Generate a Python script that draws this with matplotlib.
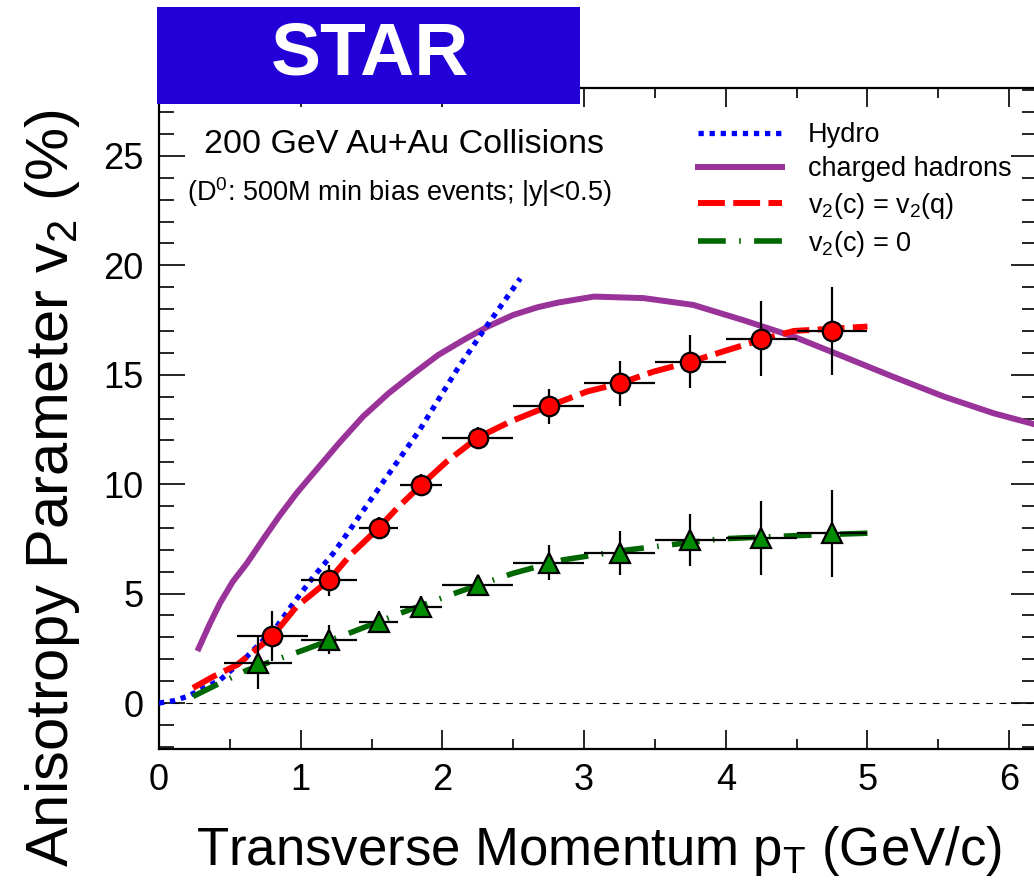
import numpy as np
import matplotlib.pyplot as plt
from matplotlib.patches import Rectangle
from matplotlib.ticker import MultipleLocator

plt.rcParams['font.family'] = ['Liberation Sans', 'DejaVu Sans']
plt.rcParams['mathtext.default'] = 'regular'

# ---------------- DATA ----------------
# D0 v2 projection, charm flows like light quarks
pt_flow = [0.8, 1.2, 1.55, 1.85, 2.25, 2.75, 3.25, 3.75, 4.25, 4.75]
v2_flow = [3.05, 5.6, 8.0, 9.95, 12.1, 13.55, 14.6, 15.6, 16.65, 17.0]
v2_flow_err = [1.15, 0.7, 0.5, 0.5, 0.5, 0.8, 1.05, 1.2, 1.7, 2.0]
pt_flow_bin = [0.25, 0.2, 0.14, 0.15, 0.25, 0.25, 0.25, 0.25, 0.25, 0.25]

# D0 v2 projection, no charm flow
pt_noflow = [0.7, 1.2, 1.55, 1.85, 2.25, 2.75, 3.25, 3.75, 4.25, 4.75]
v2_noflow = [1.85, 2.9, 3.7, 4.4, 5.4, 6.4, 6.85, 7.45, 7.55, 7.75]
v2_noflow_err = [1.2, 0.65, 0.5, 0.5, 0.4, 0.8, 1.0, 1.2, 1.7, 2.0]
pt_noflow_bin = [0.24, 0.2, 0.14, 0.15, 0.25, 0.25, 0.25, 0.25, 0.25, 0.25]

# model curves
pt_cq = [0.24, 0.38, 0.55, 0.8, 0.97, 1.2, 1.35, 1.55, 1.68, 1.85, 2.03,
         2.25, 2.48, 2.74, 3.02, 3.25, 3.49, 3.74, 3.94, 4.25, 4.48, 5.0]
v2_cq = [0.69, 1.2, 1.74, 3.05, 4.4, 5.62, 6.76, 8.0, 8.9, 9.96, 11.03,
         12.13, 12.86, 13.54, 14.23, 14.6, 15.14, 15.57, 15.98, 16.6, 17.0, 17.2]

pt_c0 = [0.24, 0.38, 0.62, 1.02, 1.37, 1.73, 2.12, 2.5, 2.85, 3.3, 3.96, 4.5, 5.0]
v2_c0 = [0.3, 0.75, 1.5, 2.42, 3.26, 4.17, 5.09, 5.93, 6.54, 6.99, 7.5, 7.65, 7.76]

pt_ch = [0.28, 0.36, 0.43, 0.52, 0.62, 0.74, 0.85, 0.97, 1.09, 1.27, 1.44, 1.62,
         1.8, 1.97, 2.15, 2.32, 2.5, 2.67, 2.82, 3.07, 3.42, 3.77, 4.12, 4.48,
         4.83, 5.18, 5.54, 5.89, 6.2]
v2_ch = [2.5, 3.64, 4.56, 5.54, 6.38, 7.53, 8.55, 9.58, 10.5, 11.87, 13.09, 14.15,
         15.07, 15.9, 16.59, 17.2, 17.73, 18.08, 18.3, 18.57, 18.5, 18.19, 17.5, 16.74,
         15.83, 14.91, 14.0, 13.24, 12.7]

pt_hydro = [0.0, 0.1, 0.2, 0.43, 0.62, 0.83, 0.93, 1.09, 1.23, 1.35, 1.56, 1.84,
            2.1, 2.31, 2.55]
v2_hydro = [0.0, 0.1, 0.3, 1.05, 2.12, 3.49, 4.4, 5.77, 6.84, 7.94, 9.9, 12.48,
            15.2, 17.2, 19.4]

# ---------------- PLOT ----------------
fig = plt.figure(figsize=(10.34, 8.84), dpi=100)
ax = fig.add_axes([0.15377, 0.15271, 0.84961, 0.74774])

ax.axhline(0, color='black', lw=0.8, dashes=(6, 6), zorder=1)

ax.plot(pt_ch, v2_ch, color='#993399', lw=4.3, label='charged hadrons', zorder=2)
ax.plot(pt_hydro, v2_hydro, color='#0000ff', lw=3.8, dashes=(1.0, 1.1),
        label='Hydro', zorder=3)
ax.plot(pt_c0, v2_c0, color='#006600', lw=4.0, dashes=(5.0, 2.4, 0.3, 2.4),
        label='$v_2$(c) = 0', zorder=3)
ax.plot(pt_cq, v2_cq, color='#ff0000', lw=4.3, dashes=(4.5, 1.4),
        label='$v_2$(c) = $v_2$(q)', zorder=4)

ax.errorbar(pt_flow, v2_flow, xerr=pt_flow_bin, yerr=v2_flow_err, fmt='none',
            ecolor='black', elinewidth=1.6, capsize=0, zorder=5)
ax.errorbar(pt_noflow, v2_noflow, xerr=pt_noflow_bin, yerr=v2_noflow_err, fmt='none',
            ecolor='black', elinewidth=1.6, capsize=0, zorder=5)
ax.plot(pt_flow, v2_flow, 'o', ms=14, mfc='#ff0000', mec='black', mew=1.6, zorder=6)
ax.plot(pt_noflow, v2_noflow, '^', ms=15, mfc='#008c00', mec='black', mew=1.6, zorder=6)

ax.set_xlim(0, 6.2)
ax.set_ylim(-2.1, 28.1)
ax.xaxis.set_major_locator(MultipleLocator(1))
ax.xaxis.set_minor_locator(MultipleLocator(0.5))
ax.yaxis.set_major_locator(MultipleLocator(5))
ax.yaxis.set_minor_locator(MultipleLocator(1))
ax.tick_params(which='both', direction='in', top=True, right=True, width=1.2,
               labelsize=26)
ax.tick_params(axis='x', which='major', length=13.5, pad=10)
ax.tick_params(axis='x', which='minor', length=7)
ax.tick_params(axis='y', which='major', length=19, pad=11)
ax.tick_params(axis='y', which='minor', length=10.5)
for s in ax.spines.values():
    s.set_linewidth(1.6)

ax.set_xlabel('Transverse Momentum $p_T$ (GeV/c)', fontsize=38)
ax.xaxis.set_label_coords(0.501, -0.114)
ax.set_ylabel('Anisotropy Parameter $v_2$ (%)', fontsize=43)
ax.yaxis.set_label_coords(-0.088, 0.395)

ax.text(0.279, 0.914, '200 GeV Au+Au Collisions', transform=ax.transAxes,
        fontsize=24.5, ha='center', va='center')
ax.text(0.274, 0.843, '(D$^0$: 500M min bias events; |y|<0.5)', transform=ax.transAxes,
        fontsize=19.5, ha='center', va='center')

handles, labels = ax.get_legend_handles_labels()
order = [1, 0, 3, 2]
ax.legend([handles[i] for i in order], [labels[i] for i in order],
          loc='upper left', bbox_to_anchor=(0.614, 0.948), frameon=False,
          fontsize=19.5, handlelength=3.1, handletextpad=0.95, labelspacing=0.3,
          borderpad=0, borderaxespad=0)

# experiment banner
fig.add_artist(Rectangle((0.1518, 0.8824), 0.409, 0.1097, transform=fig.transFigure,
                         facecolor='#2400d8', edgecolor='none', zorder=5))
fig.text(0.358, 0.938, 'STAR', color='white', fontsize=54, fontweight='bold',
         ha='center', va='center', zorder=6)

plt.savefig('out.png', dpi=100)
